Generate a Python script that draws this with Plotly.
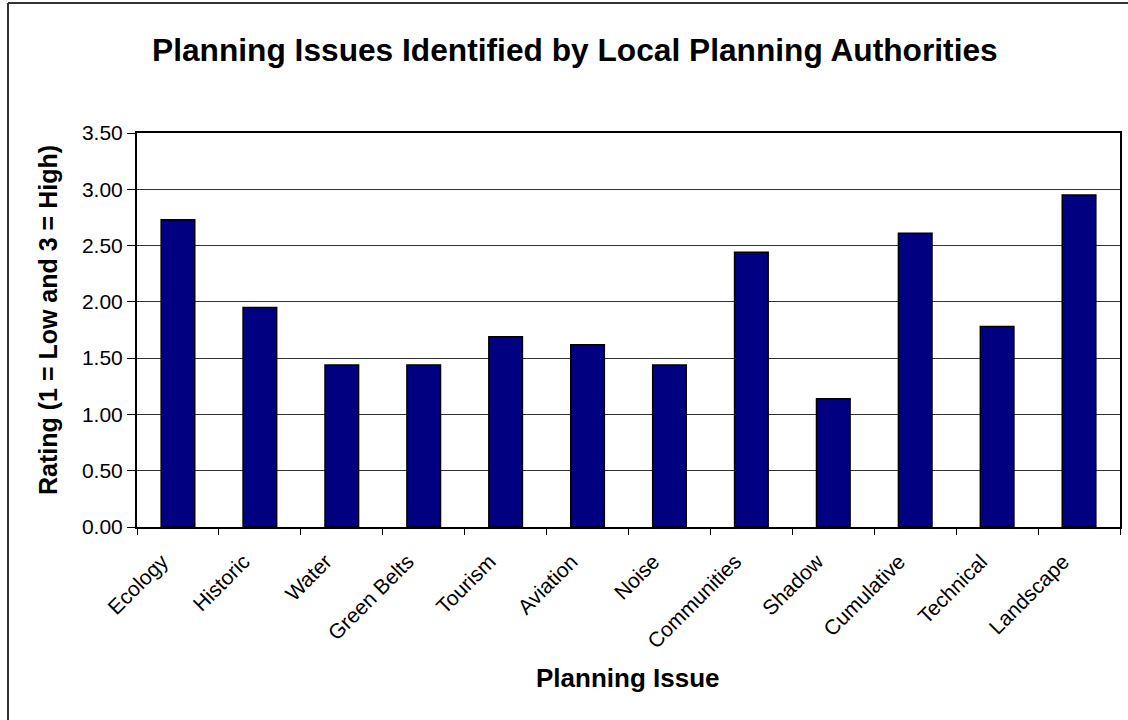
import plotly.graph_objects as go

categories = ["Ecology", "Historic", "Water", "Green Belts", "Tourism", "Aviation",
              "Noise", "Communities", "Shadow", "Cumulative", "Technical", "Landscape"]
ratings = [2.73, 1.95, 1.44, 1.44, 1.69, 1.62, 1.44, 2.44, 1.14, 2.61, 1.78, 2.95]
y_ticks = [0.0, 0.5, 1.0, 1.5, 2.0, 2.5, 3.0, 3.5]

title_text = "Planning Issues Identified by Local Planning Authorities"
x_title = "Planning Issue"
y_title = "Rating (1 = Low and 3 = High)"

W, H = 1128, 720
# plot area on screen: x 137..1120, y 133..527
SL, SR, ST, SB = 137, 1120, 133, 527
L, T = SL, ST
R = W - SR
B = H - SB
pw, ph = SR - SL, SB - ST


def px(x):
    return (x - SL) / pw


def py(y):
    return (SB - y) / ph


FONT = "Liberation Sans, Arial, sans-serif"

fig = go.Figure()
fig.add_trace(go.Bar(
    x=categories, y=ratings,
    marker=dict(color="#000080", line=dict(color="#000000", width=1.5)),
    hoverinfo="x+y",
))

fig.update_layout(
    width=W, height=H,
    margin=dict(l=L, r=R, t=T, b=B, autoexpand=False),
    paper_bgcolor="white", plot_bgcolor="white",
    bargap=0.59,
    showlegend=False,
    font=dict(family=FONT, color="black", size=21),
    annotations=[
        dict(text="<b>%s</b>" % title_text, xref="paper", yref="paper",
             x=px(574.5), y=py(50), xanchor="center", yanchor="middle",
             showarrow=False, font=dict(size=31.7, family=FONT, color="black")),
        dict(text="<b>%s</b>" % y_title, xref="paper", yref="paper",
             x=px(48), y=py(320), xanchor="center", yanchor="middle", textangle=-90,
             showarrow=False, font=dict(size=25, family=FONT, color="black")),
        dict(text="<b>%s</b>" % x_title, xref="paper", yref="paper",
             x=px(627.5), y=py(678), xanchor="center", yanchor="middle",
             showarrow=False, font=dict(size=26, family=FONT, color="black")),
    ],
    shapes=[
        dict(type="line", xref="paper", yref="paper",
             x0=px(8), x1=px(8), y0=py(3), y1=py(740),
             line=dict(color="#333333", width=2)),
        dict(type="line", xref="paper", yref="paper",
             x0=px(8), x1=px(1140), y0=py(3), y1=py(3),
             line=dict(color="#333333", width=2)),
    ],
)

fig.update_xaxes(
    type="category", tickangle=-45,
    tickson="boundaries", ticks="outside", ticklen=6, tickcolor="black", tickwidth=1,
    showline=True, linecolor="black", linewidth=2, mirror=True,
    showgrid=False, automargin=False, ticklabelshift=-16, ticklabelstandoff=12,
    tickfont=dict(size=21, family=FONT, color="black"),
)
fig.update_yaxes(
    range=[0, 3.5], tickvals=y_ticks, tickformat=".2f",
    ticks="outside", ticklen=8, tickcolor="black", tickwidth=1,
    showline=True, linecolor="black", linewidth=2, mirror=True,
    showgrid=True, gridcolor="#333333", gridwidth=1,
    zeroline=False, automargin=False,
    tickfont=dict(size=21, family=FONT, color="black"),
)

fig.write_html("out.html",
               config={"displayModeBar": False},
               post_script="document.body.style.margin='0';document.body.style.overflow='hidden';")
